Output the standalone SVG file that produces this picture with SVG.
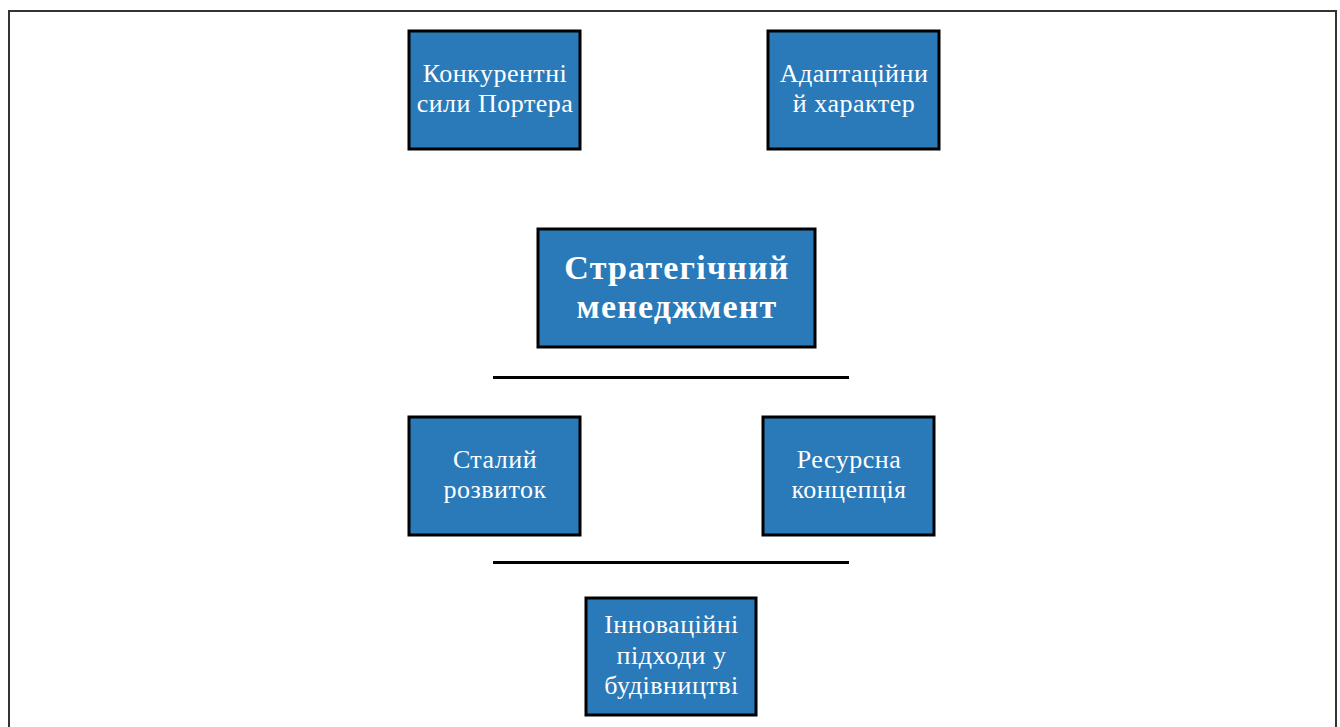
<svg xmlns="http://www.w3.org/2000/svg" width="1340" height="727" viewBox="0 0 1340 727">
  <style>
    .box { fill: #2A7AB9; stroke: #000; stroke-width: 3; }
    .lbl { font-family: "Liberation Serif", "Times New Roman", serif; font-size: 26px; letter-spacing: 0.5px; fill: #fff; text-anchor: middle; }
    .main { font-family: "Liberation Serif", "Times New Roman", serif; font-size: 34px; letter-spacing: 1.2px; font-weight: bold; fill: #fff; text-anchor: middle; }
    .rule { stroke: #000; stroke-width: 3; }
  </style>
  <rect width="1340" height="727" fill="#fff"/>
  <!-- outer frame -->
  <path d="M9 727 V11 H1336 V727" fill="none" stroke="#333" stroke-width="2"/>

  <g id="porter">
    <rect class="box" x="409" y="31" width="171" height="118"/>
    <text class="lbl" x="495" y="82">Конкурентні</text>
    <text class="lbl" x="495" y="112">сили Портера</text>
  </g>
  <g id="adaptive">
    <rect class="box" x="768" y="31" width="171" height="118"/>
    <text class="lbl" x="854" y="82">Адаптаційни</text>
    <text class="lbl" x="854" y="112">й характер</text>
  </g>
  <g id="strategic">
    <rect class="box" x="538" y="229" width="277" height="118"/>
    <text class="main" x="677" y="279">Стратегічний</text>
    <text class="main" x="677" y="318">менеджмент</text>
  </g>
  <g id="sustainable">
    <rect class="box" x="409" y="417" width="171" height="118"/>
    <text class="lbl" x="495" y="468">Сталий</text>
    <text class="lbl" x="495" y="498">розвиток</text>
  </g>
  <g id="resource">
    <rect class="box" x="763" y="417" width="171" height="118"/>
    <text class="lbl" x="849" y="468">Ресурсна</text>
    <text class="lbl" x="849" y="498">концепція</text>
  </g>
  <g id="innovation">
    <rect class="box" x="586" y="598" width="170" height="117"/>
    <text class="lbl" x="671.5" y="633">Інноваційні</text>
    <text class="lbl" x="671.5" y="664">підходи у</text>
    <text class="lbl" x="671.5" y="694">будівництві</text>
  </g>

  <g id="connectors">
    <line class="rule" x1="493" y1="377.5" x2="849" y2="377.5"/>
    <line class="rule" x1="493" y1="562.5" x2="849" y2="562.5"/>
  </g>
</svg>
